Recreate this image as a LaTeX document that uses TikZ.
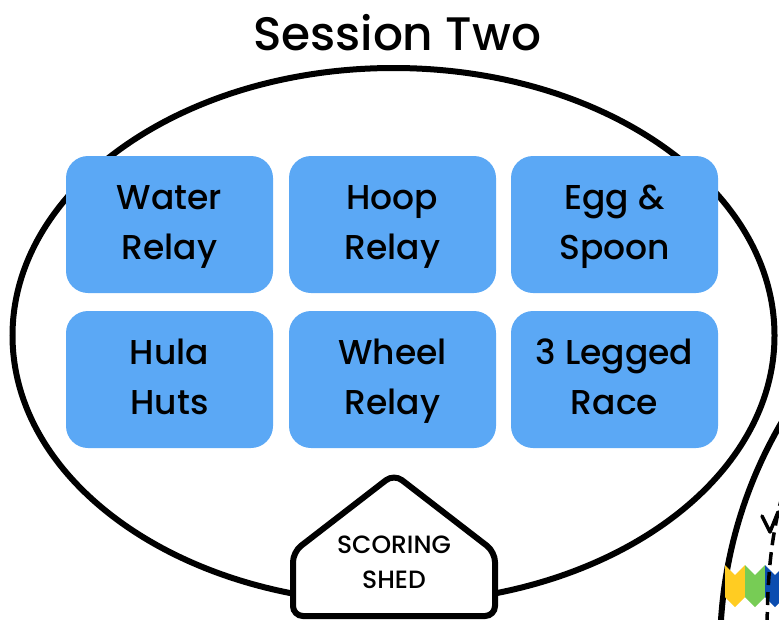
\documentclass[tikz,border=0pt]{standalone}
\usepackage{fontspec}
\setmainfont{Poppins}[UprightFont=* Medium]
\definecolor{boxblue}{HTML}{5BA8F5}
\definecolor{flagyellow}{HTML}{FFCC22}
\definecolor{flaggreen}{HTML}{77CC55}
\definecolor{flagblue}{HTML}{0B4DB0}
\begin{document}
\begin{tikzpicture}[x=1pt,y=-1pt,
  event/.style={fill=boxblue, rounded corners=22pt, minimum width=207pt, minimum height=137pt,
    align=center, inner sep=0pt, font=\fontsize{34.5}{50}\selectfont},
  thick line/.style={line width=6pt}]
\useasboundingbox (0,0) rectangle (779,619);
\clip (0,0) rectangle (779,619);
% title
\node (title) at (397,33) {\fontsize{47}{50}\selectfont Session Two};
% session ellipse
\draw[thick line] (393.5,335.5) ellipse [x radius=381pt, y radius=267.5pt];
% neighbouring track (bottom right)
\draw[thick line] (1171,650) circle [radius=451pt];
% flags
\fill[flagyellow] (725,565) -- (735,575) -- (745,565) -- (745,597) -- (735,607) -- (725,597) -- cycle;
\fill[flaggreen] (745,565) -- (755,575) -- (765,565) -- (765,597) -- (755,607) -- (745,597) -- cycle;
\fill[flagblue] (765,565) -- (775,575) -- (785,565) -- (785,597) -- (775,607) -- (765,597) -- cycle;
% dashed path with arrow
\draw[line width=3.5pt, dash pattern=on 13pt off 7pt] (767,625) .. controls (768,575) and (770,530) .. (790,470);
\draw[line width=3.5pt, line cap=round, line join=round] (762,516) -- (770,532) -- (778,512);
% events
\node[event] (water) at (169.5,224.5) {Water\strut\\Relay\strut};
\node[event] (hoop)  at (392.5,224.5) {Hoop\strut\\Relay\strut};
\node[event] (egg)   at (614.5,224.5) {Egg \&\strut\\Spoon\strut};
\node[event] (hula)  at (169.5,379.5) {Hula\strut\\Huts\strut};
\node[event] (wheel) at (392.5,379.5) {Wheel\strut\\Relay\strut};
\node[event] (legged) at (614.5,379.5) {3 Legged\strut\\Race\strut};
% scoring shed
\draw[thick line, fill=white, rounded corners=10pt] (293,616) -- (293,552) -- (394,474) -- (495,552) -- (495,616) -- cycle;
\node[align=center, font=\fontsize{25}{35}\selectfont] (shed) at (394,564) {SCORING\strut\\SHED\strut};
\end{tikzpicture}
\end{document}
